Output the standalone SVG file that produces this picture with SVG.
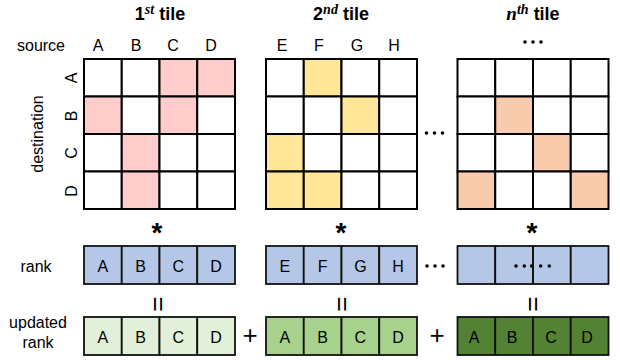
<svg xmlns="http://www.w3.org/2000/svg" width="620" height="360" viewBox="0 0 620 360">
<style>
text{font-family:"Liberation Sans",Arial,sans-serif;fill:#000;}
.lbl{font-size:16px;text-anchor:middle;dominant-baseline:central;}
.ttl{font-size:18px;font-weight:bold;}
.sup{font-family:"Liberation Serif","Times New Roman",serif;font-style:italic;font-weight:bold;font-size:14px;}
.big{font-family:"Liberation Serif","Times New Roman",serif;font-style:italic;font-weight:bold;font-size:19px;}
.cell{stroke:#000;stroke-width:2;fill:#fff;}
.pk{fill:#FFCCCC;}
.yl{fill:#FFE699;}
.or{fill:#F8CBAD;}
.rk{stroke:#111;stroke-width:1.8;}
.bl{fill:#B4C7E7;}
.g1{fill:#E2F0D9;}
.g2{fill:#A9D18E;}
.g3{fill:#548235;}
.op{font-size:28px;font-weight:bold;text-anchor:middle;dominant-baseline:central;}
.pl{font-size:26px;font-weight:normal;text-anchor:middle;dominant-baseline:central;}
</style>
<defs>
<g id="dots3"><circle cx="-8" cy="0" r="1.8"/><circle cx="0" cy="0" r="1.8"/><circle cx="8" cy="0" r="1.8"/></g>
</defs>

<!-- Titles -->
<g id="titles">
<text class="ttl" x="160" y="20" text-anchor="middle">1<tspan class="sup" dy="-6">st</tspan><tspan dy="6"> tile</tspan></text>
<text class="ttl" x="341" y="20" text-anchor="middle">2<tspan class="sup" dy="-6">nd</tspan><tspan dy="6"> tile</tspan></text>
<text class="ttl" x="533" y="20" text-anchor="middle"><tspan class="big">n</tspan><tspan class="sup" dy="-6">th</tspan><tspan dy="6"> tile</tspan></text>
</g>

<!-- Axis labels -->
<g id="axis-labels">
<text class="lbl" x="41" y="45">source</text>
<text class="lbl" x="98" y="45">A</text>
<text class="lbl" x="136" y="45">B</text>
<text class="lbl" x="173" y="45">C</text>
<text class="lbl" x="211" y="45">D</text>
<text class="lbl" x="282" y="45">E</text>
<text class="lbl" x="319" y="45">F</text>
<text class="lbl" x="357" y="45">G</text>
<text class="lbl" x="394" y="45">H</text>
<use href="#dots3" x="533" y="42"/>
<text class="lbl" transform="translate(37,134) rotate(-90)">destination</text>
<text class="lbl" transform="translate(71,78) rotate(-90)">A</text>
<text class="lbl" transform="translate(71,116) rotate(-90)">B</text>
<text class="lbl" transform="translate(71,153) rotate(-90)">C</text>
<text class="lbl" transform="translate(71,191) rotate(-90)">D</text>
<text class="lbl" x="36" y="266">rank</text>
<text class="lbl" x="38" y="322">updated</text>
<text class="lbl" x="38" y="342">rank</text>
</g>

<!-- Tile 1 -->
<g id="tile1">
<rect class="cell" x="84" y="59" width="37.75" height="37.5"/>
<rect class="cell" x="121.75" y="59" width="37.75" height="37.5"/>
<rect class="cell pk" x="159.5" y="59" width="37.75" height="37.5"/>
<rect class="cell pk" x="197.25" y="59" width="37.75" height="37.5"/>
<rect class="cell pk" x="84" y="96.5" width="37.75" height="37.5"/>
<rect class="cell" x="121.75" y="96.5" width="37.75" height="37.5"/>
<rect class="cell pk" x="159.5" y="96.5" width="37.75" height="37.5"/>
<rect class="cell" x="197.25" y="96.5" width="37.75" height="37.5"/>
<rect class="cell" x="84" y="134" width="37.75" height="37.5"/>
<rect class="cell pk" x="121.75" y="134" width="37.75" height="37.5"/>
<rect class="cell" x="159.5" y="134" width="37.75" height="37.5"/>
<rect class="cell" x="197.25" y="134" width="37.75" height="37.5"/>
<rect class="cell" x="84" y="171.5" width="37.75" height="37.5"/>
<rect class="cell pk" x="121.75" y="171.5" width="37.75" height="37.5"/>
<rect class="cell" x="159.5" y="171.5" width="37.75" height="37.5"/>
<rect class="cell" x="197.25" y="171.5" width="37.75" height="37.5"/>
</g>

<!-- Tile 2 -->
<g id="tile2">
<rect class="cell" x="266" y="59" width="37.75" height="37.5"/>
<rect class="cell yl" x="303.75" y="59" width="37.75" height="37.5"/>
<rect class="cell" x="341.5" y="59" width="37.75" height="37.5"/>
<rect class="cell" x="379.25" y="59" width="37.75" height="37.5"/>
<rect class="cell" x="266" y="96.5" width="37.75" height="37.5"/>
<rect class="cell" x="303.75" y="96.5" width="37.75" height="37.5"/>
<rect class="cell yl" x="341.5" y="96.5" width="37.75" height="37.5"/>
<rect class="cell" x="379.25" y="96.5" width="37.75" height="37.5"/>
<rect class="cell yl" x="266" y="134" width="37.75" height="37.5"/>
<rect class="cell" x="303.75" y="134" width="37.75" height="37.5"/>
<rect class="cell" x="341.5" y="134" width="37.75" height="37.5"/>
<rect class="cell" x="379.25" y="134" width="37.75" height="37.5"/>
<rect class="cell yl" x="266" y="171.5" width="37.75" height="37.5"/>
<rect class="cell yl" x="303.75" y="171.5" width="37.75" height="37.5"/>
<rect class="cell" x="341.5" y="171.5" width="37.75" height="37.5"/>
<rect class="cell" x="379.25" y="171.5" width="37.75" height="37.5"/>
</g>

<g id="ellipsis-tiles"><use href="#dots3" x="434.5" y="133"/></g>

<!-- Tile n -->
<g id="tilen">
<rect class="cell" x="457.5" y="59" width="37.75" height="37.5"/>
<rect class="cell" x="495.25" y="59" width="37.75" height="37.5"/>
<rect class="cell" x="533" y="59" width="37.75" height="37.5"/>
<rect class="cell" x="570.75" y="59" width="37.75" height="37.5"/>
<rect class="cell" x="457.5" y="96.5" width="37.75" height="37.5"/>
<rect class="cell or" x="495.25" y="96.5" width="37.75" height="37.5"/>
<rect class="cell" x="533" y="96.5" width="37.75" height="37.5"/>
<rect class="cell" x="570.75" y="96.5" width="37.75" height="37.5"/>
<rect class="cell" x="457.5" y="134" width="37.75" height="37.5"/>
<rect class="cell" x="495.25" y="134" width="37.75" height="37.5"/>
<rect class="cell or" x="533" y="134" width="37.75" height="37.5"/>
<rect class="cell" x="570.75" y="134" width="37.75" height="37.5"/>
<rect class="cell or" x="457.5" y="171.5" width="37.75" height="37.5"/>
<rect class="cell" x="495.25" y="171.5" width="37.75" height="37.5"/>
<rect class="cell" x="533" y="171.5" width="37.75" height="37.5"/>
<rect class="cell or" x="570.75" y="171.5" width="37.75" height="37.5"/>
</g>

<!-- Operators -->
<g id="operators">
<text class="op" x="157" y="232">*</text>
<text class="op" x="341" y="232">*</text>
<text class="op" x="532" y="232">*</text>
<text class="pl" transform="translate(159,304) rotate(90)">=</text>
<text class="pl" transform="translate(343,304) rotate(90)">=</text>
<text class="pl" transform="translate(534,304) rotate(90)">=</text>
<text class="pl" x="250" y="335">+</text>
<text class="pl" x="437" y="335">+</text>
</g>

<!-- Rank row -->
<g id="rank1">
<rect class="rk bl" x="84" y="246" width="37.75" height="38"/>
<rect class="rk bl" x="121.75" y="246" width="37.75" height="38"/>
<rect class="rk bl" x="159.5" y="246" width="37.75" height="38"/>
<rect class="rk bl" x="197.25" y="246" width="37.75" height="38"/>
<text class="lbl" x="102.9" y="266">A</text>
<text class="lbl" x="140.6" y="266">B</text>
<text class="lbl" x="178.4" y="266">C</text>
<text class="lbl" x="216.1" y="266">D</text>
</g>
<g id="rank2">
<rect class="rk bl" x="266" y="246" width="37.75" height="38"/>
<rect class="rk bl" x="303.75" y="246" width="37.75" height="38"/>
<rect class="rk bl" x="341.5" y="246" width="37.75" height="38"/>
<rect class="rk bl" x="379.25" y="246" width="37.75" height="38"/>
<text class="lbl" x="284.9" y="266">E</text>
<text class="lbl" x="322.6" y="266">F</text>
<text class="lbl" x="360.4" y="266">G</text>
<text class="lbl" x="398.1" y="266">H</text>
</g>
<g id="ellipsis-rank"><use href="#dots3" x="435" y="266"/></g>
<g id="rankn">
<rect class="rk bl" x="457.5" y="246" width="37.75" height="38"/>
<rect class="rk bl" x="495.25" y="246" width="37.75" height="38"/>
<rect class="rk bl" x="533" y="246" width="37.75" height="38"/>
<rect class="rk bl" x="570.75" y="246" width="37.75" height="38"/>
<circle cx="516" cy="266" r="1.8"/><circle cx="524.3" cy="266" r="1.8"/><circle cx="531.7" cy="266" r="1.8"/><circle cx="540.7" cy="266" r="1.8"/><circle cx="549.3" cy="266" r="1.8"/>
<line x1="533" y1="246" x2="533" y2="284" stroke="#111" stroke-width="1.8"/>
</g>

<!-- Updated rank -->
<g id="upd1">
<rect class="rk g1" x="84" y="317" width="37.75" height="38"/>
<rect class="rk g1" x="121.75" y="317" width="37.75" height="38"/>
<rect class="rk g1" x="159.5" y="317" width="37.75" height="38"/>
<rect class="rk g1" x="197.25" y="317" width="37.75" height="38"/>
<text class="lbl" x="102.9" y="337">A</text>
<text class="lbl" x="140.6" y="337">B</text>
<text class="lbl" x="178.4" y="337">C</text>
<text class="lbl" x="216.1" y="337">D</text>
</g>
<g id="upd2">
<rect class="rk g2" x="266" y="317" width="37.75" height="38"/>
<rect class="rk g2" x="303.75" y="317" width="37.75" height="38"/>
<rect class="rk g2" x="341.5" y="317" width="37.75" height="38"/>
<rect class="rk g2" x="379.25" y="317" width="37.75" height="38"/>
<text class="lbl" x="284.9" y="337">A</text>
<text class="lbl" x="322.6" y="337">B</text>
<text class="lbl" x="360.4" y="337">C</text>
<text class="lbl" x="398.1" y="337">D</text>
</g>
<g id="updn">
<rect class="rk g3" x="457.5" y="317" width="37.75" height="38"/>
<rect class="rk g3" x="495.25" y="317" width="37.75" height="38"/>
<rect class="rk g3" x="533" y="317" width="37.75" height="38"/>
<rect class="rk g3" x="570.75" y="317" width="37.75" height="38"/>
<text class="lbl" x="474" y="337">A</text>
<text class="lbl" x="512" y="337">B</text>
<text class="lbl" x="551" y="337">C</text>
<text class="lbl" x="587" y="337">D</text>
</g>
</svg>
